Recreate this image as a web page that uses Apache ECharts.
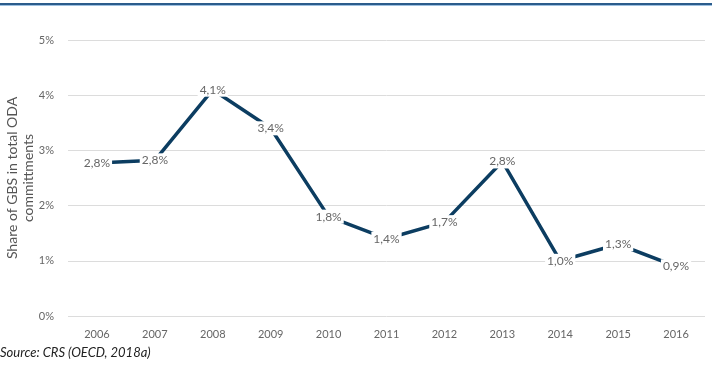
<!DOCTYPE html>
<html>
<head>
<meta charset="utf-8">
<script src="https://cdn.jsdelivr.net/npm/echarts@6/dist/echarts.min.js"></script>
<style>
  html, body { margin: 0; padding: 0; background: #fff; }
  #main { width: 712px; height: 379px; }
</style>
</head>
<body>
<div id="main"></div>
<script>
const years = ['2006', '2007', '2008', '2009', '2010', '2011', '2012', '2013', '2014', '2015', '2016']
const gbsShare = [2.77, 2.82, 4.1, 3.4, 1.8, 1.4, 1.7, 2.8, 1.0, 1.3, 0.9]
const yTicks = [0, 1, 2, 3, 4, 5]

const font = 'Lato, "Open Sans", sans-serif'
const chart = echarts.init(document.getElementById('main'))

chart.setOption({
  animation: false,
  backgroundColor: '#fff',
  graphic: [
    { type: 'rect', shape: { x: 0, y: 3, width: 712, height: 2 }, style: { fill: '#2b5c8c' } },
    { type: 'rect', shape: { x: 0, y: 5, width: 712, height: 1 }, style: { fill: '#9dc0e0' } },
    {
      type: 'text', left: 0, top: 346,
      style: { text: 'Source: CRS (OECD, 2018a)', font: 'italic 13px ' + font, fill: '#222' }
    }
  ],
  grid: { left: 68, right: 7, top: 40, bottom: 63, outerBoundsMode: 'none', containLabel: false },
  xAxis: {
    type: 'category',
    data: years,
    boundaryGap: true,
    axisLine: { show: false },
    axisTick: { show: false },
    axisLabel: { color: '#666', fontSize: 11, fontFamily: font, margin: 13 }
  },
  yAxis: {
    type: 'value',
    min: yTicks[0],
    max: yTicks[yTicks.length - 1],
    interval: 1,
    name: 'Share of GBS in total ODA\ncommittments',
    nameLocation: 'middle',
    nameGap: 32,
    nameMoveOverlap: false,
    nameTextStyle: { color: '#555', fontSize: 14, fontFamily: font, lineHeight: 16 },
    axisLabel: { color: '#666', fontSize: 11, fontFamily: font, margin: 14, formatter: v => v + '%' },
    splitLine: { lineStyle: { color: '#dcdcdc', width: 1 } }
  },
  series: [{
    type: 'line',
    data: gbsShare,
    symbol: 'circle',
    symbolSize: 1,
    showSymbol: true,
    itemStyle: { color: 'rgba(0,0,0,0)' },
    lineStyle: { color: '#0c3d61', width: 3.5 },
    label: {
      show: true,
      position: 'inside',
      color: '#666',
      fontSize: 12,
      fontFamily: font,
      backgroundColor: '#fff',
      padding: [1, 2],
      formatter: p => p.value.toFixed(1).replace('.', ',') + '%'
    },
    z: 3
  }]
})
</script>
</body>
</html>
